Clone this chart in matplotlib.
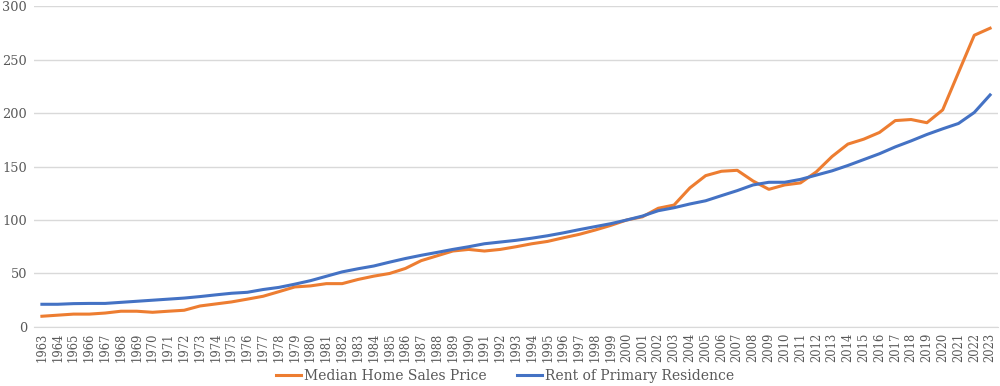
import matplotlib
matplotlib.use('Agg')
import matplotlib.pyplot as plt
import numpy as np

years = list(range(1963, 2024))

home_price = [
    10, 11, 12, 12, 13, 14.7, 14.7, 13.7, 14.7, 15.6,
    19.6, 21.5, 23.4, 26, 28.7, 33, 37.4, 38.4, 40.5, 40.5,
    44.4, 47.5, 50, 54.7, 62, 66.5, 71, 72.5, 71, 72.5,
    75, 77.8, 80, 83.4, 86.6, 90.6, 95, 100, 103, 111,
    114, 130, 141.5, 145.6, 146.5, 136.5, 128.7, 132.8, 134.7, 145,
    159.4, 171, 175.6, 181.9, 193, 194, 191, 203, 238, 272.8,
    279.4,
]

rent = [
    21.2, 21.2, 21.8, 22, 22, 23, 24, 25, 26, 27,
    28.4, 30, 31.5, 32.4, 35, 37, 40, 43.3, 47.4, 51.5,
    54.4, 57, 60.6, 64, 67, 69.7, 72.5, 75, 77.8, 79.4,
    81, 83, 85.3, 88, 91, 93.8, 96.6, 100, 103.7, 108.7,
    111.5, 115, 118, 122.8, 127.5, 132.8, 135.3, 135.3, 138, 142,
    146, 151, 156.5, 162, 168.4, 174, 180, 185.3, 190.3, 200.6,
    217,
]

ORANGE = '#ED7D31'
BLUE = '#4472C4'
GREY = '#595959'

plt.rcParams['font.family'] = ['DejaVu Serif']

fig = plt.figure(figsize=(10, 3.86), dpi=100)
ax = fig.add_axes([0.034, 0.153, 0.964, 0.831])

ax.plot(years, home_price, color=ORANGE, lw=2.2, label='Median Home Sales Price')
ax.plot(years, rent, color=BLUE, lw=2.2, label='Rent of Primary Residence')

ax.set_xlim(1962.5, 2023.5)
ax.set_ylim(0, 300)
ax.set_yticks(np.arange(0, 301, 50))
ax.set_xticks(years)
ax.set_xticklabels([str(y) for y in years], rotation=90, fontsize=8.3, color=GREY)
ax.tick_params(axis='y', labelsize=9.3, colors=GREY, length=0, pad=5)
ax.tick_params(axis='x', length=0, pad=4)
ax.grid(axis='y', color='#d9d9d9', lw=1)
ax.set_axisbelow(True)
for s in ['top', 'right', 'left']:
    ax.spines[s].set_visible(False)
ax.spines['bottom'].set_color('#d9d9d9')

leg = fig.legend(loc='lower center', bbox_to_anchor=(0.505, -0.025), ncol=2, frameon=False,
                 fontsize=10, handlelength=1.8, columnspacing=2.2, handletextpad=0.2)
for t in leg.get_texts():
    t.set_color(GREY)

fig.savefig('out.png', dpi=100)
